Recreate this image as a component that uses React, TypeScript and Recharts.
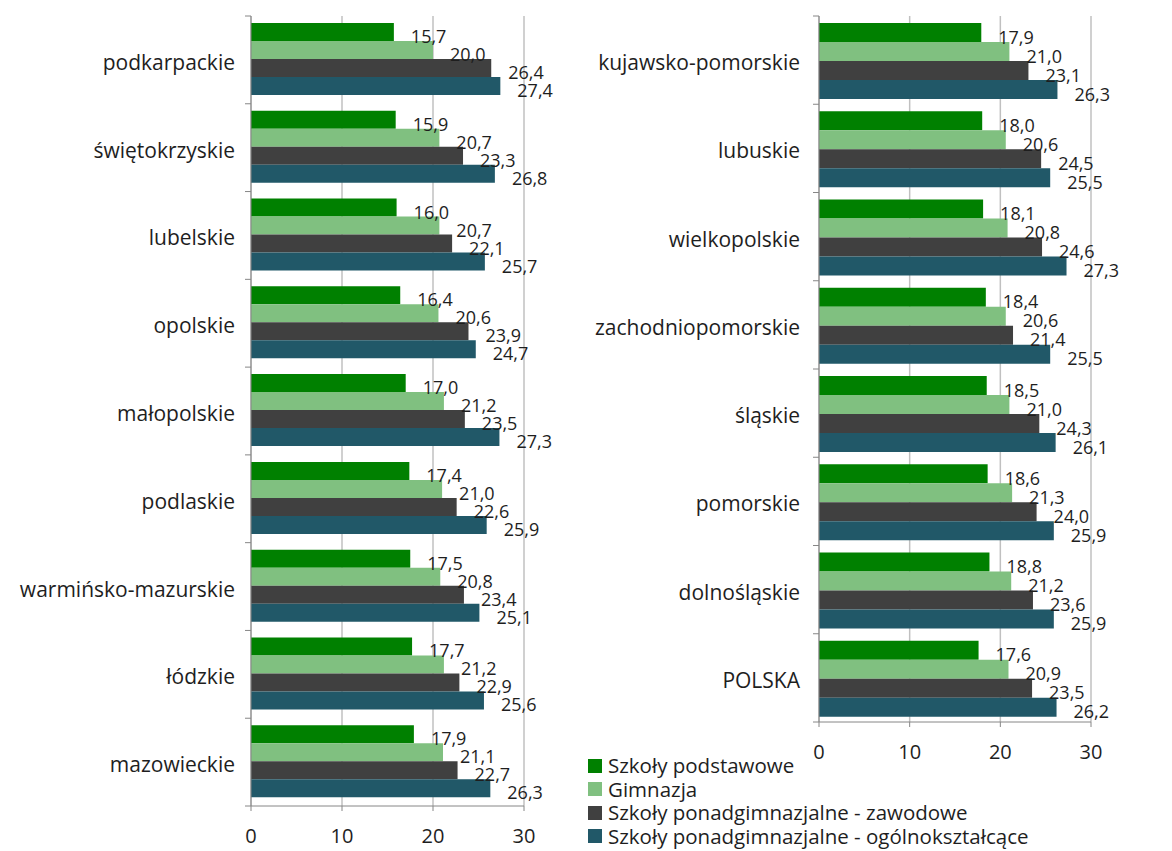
import React from "react";
import { BarChart, Bar, XAxis, YAxis, CartesianGrid, LabelList } from "recharts";

const seriesNames = [
  "Szkoły podstawowe",
  "Gimnazja",
  "Szkoły ponadgimnazjalne - zawodowe",
  "Szkoły ponadgimnazjalne - ogólnokształcące",
];
const seriesKeys = ["podst", "gimn", "zaw", "ogol"];
const seriesColors = ["#008000", "#80c080", "#404040", "#215868"];

const leftRegions = [
  "podkarpackie",
  "świętokrzyskie",
  "lubelskie",
  "opolskie",
  "małopolskie",
  "podlaskie",
  "warmińsko-mazurskie",
  "łódzkie",
  "mazowieckie",
];
const leftPodst = [15.7, 15.9, 16.0, 16.4, 17.0, 17.4, 17.5, 17.7, 17.9];
const leftGimn = [20.0, 20.7, 20.7, 20.6, 21.2, 21.0, 20.8, 21.2, 21.1];
const leftZaw = [26.4, 23.3, 22.1, 23.9, 23.5, 22.6, 23.4, 22.9, 22.7];
const leftOgol = [27.4, 26.8, 25.7, 24.7, 27.3, 25.9, 25.1, 25.6, 26.3];

const rightRegions = [
  "kujawsko-pomorskie",
  "lubuskie",
  "wielkopolskie",
  "zachodniopomorskie",
  "śląskie",
  "pomorskie",
  "dolnośląskie",
  "POLSKA",
];
const rightPodst = [17.9, 18.0, 18.1, 18.4, 18.5, 18.6, 18.8, 17.6];
const rightGimn = [21.0, 20.6, 20.8, 20.6, 21.0, 21.3, 21.2, 20.9];
const rightZaw = [23.1, 24.5, 24.6, 21.4, 24.3, 24.0, 23.6, 23.5];
const rightOgol = [26.3, 25.5, 27.3, 25.5, 26.1, 25.9, 25.9, 26.2];

const xTicks = [0, 10, 20, 30];

const build = (names: string[], a: number[], b: number[], c: number[], d: number[]) =>
  names.map((name, i) => ({ name, podst: a[i], gimn: b[i], zaw: c[i], ogol: d[i] }));

const leftData = build(leftRegions, leftPodst, leftGimn, leftZaw, leftOgol);
const rightData = build(rightRegions, rightPodst, rightGimn, rightZaw, rightOgol);

const FONT = "'Open Sans', 'DejaVu Sans', sans-serif";
const TEXT = "#1e1e1e";
const AXIS = "#868686";

const fmt = (v: any) => Number(v).toFixed(1).replace(".", ",");

const renderLabel = (props: any) => {
  const { x, y, width, height, value } = props;
  return (
    <text
      x={Number(x) + Number(width) + 17}
      y={Number(y) + Number(height) / 2 + 4}
      dominantBaseline="central"
      fontSize={18}
      fontFamily={FONT}
      fill={TEXT}
    >
      {fmt(value)}
    </text>
  );
};

const makeCatTick = (band: number, n: number, margin: number) => (props: any) => {
  const { x, y, payload, index } = props;
  const ax = Number(x) + margin;
  return (
    <g>
      <text
        x={x}
        y={Number(y) + 2}
        textAnchor="end"
        dominantBaseline="central"
        fontSize={21}
        fontFamily={FONT}
        fill={TEXT}
      >
        {payload.value}
      </text>
      <line x1={ax - 6} x2={ax} y1={Number(y) - band / 2} y2={Number(y) - band / 2} stroke={AXIS} />
      {index === n - 1 ? (
        <line x1={ax - 6} x2={ax} y1={Number(y) + band / 2} y2={Number(y) + band / 2} stroke={AXIS} />
      ) : null}
    </g>
  );
};

type PanelProps = {
  data: any[];
  width: number;
  height: number;
  yWidth: number;
  marginRight: number;
  marginBottom: number;
  tickMargin: number;
};

const Panel = ({ data, width, height, yWidth, marginRight, marginBottom, tickMargin }: PanelProps) => {
  const top = 16;
  const xh = 45;
  const plotH = height - top - marginBottom - xh;
  const band = plotH / data.length;
  return (
    <BarChart
      width={width}
      height={height}
      data={data}
      layout="vertical"
      margin={{ top, right: marginRight, bottom: marginBottom, left: 0 }}
      barCategoryGap={7}
      barGap={0}
    >
      <CartesianGrid horizontal={false} vertical={true} stroke="#c0c0c0" strokeWidth={1.5} />
      <XAxis
        type="number"
        domain={[0, 30]}
        ticks={xTicks}
        height={xh}
        tickSize={5}
        tickMargin={18}
        stroke={AXIS}
        tickLine={{ stroke: AXIS }}
        tick={{ fontSize: 20, fontFamily: FONT, fill: TEXT }}
      />
      <YAxis
        type="category"
        dataKey="name"
        width={yWidth}
        tickSize={0}
        tickMargin={tickMargin}
        tickLine={false}
        stroke={AXIS}
        interval={0}
        tick={makeCatTick(band, data.length, tickMargin)}
      />
      {seriesKeys.map((k, i) => (
        <Bar key={k} dataKey={k} name={seriesNames[i]} fill={seriesColors[i]} isAnimationActive={false}>
          <LabelList dataKey={k} content={renderLabel} />
        </Bar>
      ))}
    </BarChart>
  );
};

const Legend = () => (
  <div
    style={{
      position: "absolute",
      left: 588,
      top: 754,
      fontFamily: FONT,
      fontSize: 20.5,
      color: TEXT,
      lineHeight: "23.5px",
    }}
  >
    {seriesNames.map((n, i) => (
      <div key={n} style={{ display: "flex", alignItems: "center", whiteSpace: "nowrap" }}>
        <span
          style={{
            display: "inline-block",
            width: 14,
            height: 14,
            background: seriesColors[i],
            marginRight: 6,
          }}
        />
        <span>{n}</span>
      </div>
    ))}
  </div>
);

export default function App() {
  return (
    <div style={{ position: "absolute", left: 0, top: 0, width: 1172, height: 851, background: "#fff" }}>
      <div style={{ position: "absolute", left: 0, top: 0 }}>
        <Panel data={leftData} width={560} height={851} yWidth={251} marginRight={36} marginBottom={0} tickMargin={16} />
      </div>
      <div style={{ position: "absolute", left: 560, top: 0 }}>
        <Panel data={rightData} width={612} height={851} yWidth={259} marginRight={81} marginBottom={84} tickMargin={19} />
      </div>
      <Legend />
    </div>
  );
}
